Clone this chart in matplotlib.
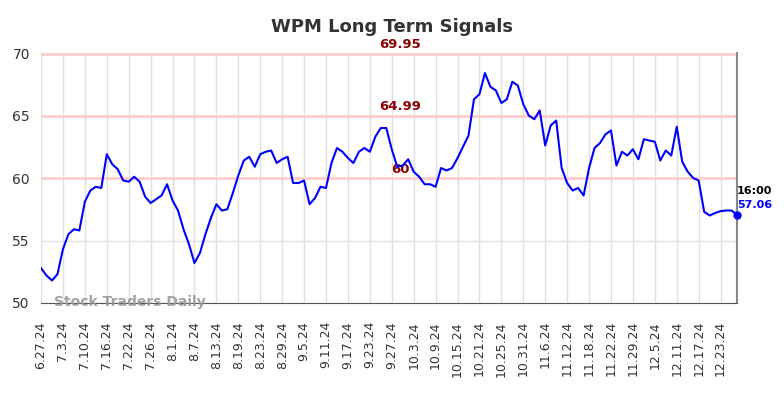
import numpy as np
import matplotlib
matplotlib.use("Agg")
import matplotlib.pyplot as plt

ticker = "WPM"
prices = [52.8, 52.2, 51.8, 52.3, 54.3, 55.5, 55.9, 55.8, 58.1, 59.0,
          59.3, 59.2, 61.9, 61.1, 60.7, 59.8, 59.7, 60.1, 59.7, 58.5,
          58.0, 58.3, 58.6, 59.5, 58.2, 57.4, 55.9, 54.7, 53.2, 54.0,
          55.5, 56.8, 57.9, 57.4, 57.5, 58.8, 60.2, 61.4, 61.7, 60.9,
          61.9, 62.1, 62.2, 61.2, 61.5, 61.7, 59.6, 59.6, 59.8, 57.9,
          58.4, 59.3, 59.2, 61.2, 62.4, 62.1, 61.6, 61.2, 62.1, 62.4,
          62.1, 63.3, 64.0, 64.0, 62.3, 60.9, 61.0, 61.5, 60.5, 60.1,
          59.5, 59.5, 59.3, 60.8, 60.6, 60.8, 61.6, 62.5, 63.4, 66.3,
          66.7, 68.4, 67.3, 67.0, 66.0, 66.3, 67.7, 67.4, 65.9, 65.0,
          64.7, 65.4, 62.6, 64.2, 64.6, 60.8, 59.6, 59.0, 59.2, 58.6,
          60.8, 62.4, 62.8, 63.5, 63.8, 61.0, 62.1, 61.8, 62.3, 61.5,
          63.1, 63.0, 62.9, 61.4, 62.2, 61.8, 64.1, 61.3, 60.5, 60.0,
          59.8, 57.3, 57.0, 57.2, 57.35, 57.4, 57.4, 57.06]
tick_labels = ["6.27.24", "7.3.24", "7.10.24", "7.16.24", "7.22.24", "7.26.24",
               "8.1.24", "8.7.24", "8.13.24", "8.19.24", "8.23.24", "8.29.24",
               "9.5.24", "9.11.24", "9.17.24", "9.23.24", "9.27.24", "10.3.24",
               "10.9.24", "10.15.24", "10.21.24", "10.25.24", "10.31.24", "11.6.24",
               "11.12.24", "11.18.24", "11.22.24", "11.29.24", "12.5.24", "12.11.24",
               "12.17.24", "12.23.24"]
levels = [69.95, 64.99, 60]
level_labels = ["69.95", "64.99", "60"]
last_time = "16:00"

x = np.arange(len(prices))

fig = plt.figure(figsize=(7.84, 3.98), dpi=100)
ax = fig.add_axes([0.0523, 0.2387, 0.8878, 0.6281])

ax.set_xlim(0, len(prices) - 1)
ax.set_ylim(50, 70)
ax.set_yticks([50, 55, 60, 65, 70])
ax.set_xticks(x[::4])
ax.set_xticklabels(tick_labels, rotation=90, fontsize=9)
ax.tick_params(axis="both", length=0, colors="#333333")
ax.tick_params(axis="x", pad=13)
ax.tick_params(axis="y", labelsize=10, pad=8)
ax.grid(True, color="#e0e0e0", lw=1)
ax.set_axisbelow(True)

for s in ["top", "left"]:
    ax.spines[s].set_visible(False)
ax.spines["bottom"].set_color("#555555")
ax.spines["right"].set_color("#888888")
ax.spines["right"].set_linewidth(1.5)

for lv, lb in zip(levels, level_labels):
    ax.axhline(lv, color="#ffcccc", lw=2, zorder=1)
    ax.text(65.5, lv + 0.2, lb, color="#8b0000", fontsize=9.5, fontweight="bold",
            ha="center", va="bottom")

ax.plot(x, prices, color="#0000ff", lw=1.5, zorder=3)
ax.plot(x[-1], prices[-1], "o", color="#0000ff", ms=5, zorder=4, clip_on=False)
ax.text(x[-1], prices[-1] + 1.9, last_time, fontsize=8, fontweight="bold",
        color="black", ha="left", va="center")
ax.text(x[-1], prices[-1] + 0.8, f"{prices[-1]:.2f}", fontsize=8, fontweight="bold",
        color="#0000ff", ha="left", va="center")

ax.text(2.3, 50.05, "Stock Traders Daily", fontsize=10, fontweight="bold",
        color="#999999", alpha=0.9, ha="left", va="center")

fig.suptitle(f"{ticker} Long Term Signals", fontsize=13, fontweight="bold",
             color="#333333", y=0.955)

fig.savefig("out.png", dpi=100)
